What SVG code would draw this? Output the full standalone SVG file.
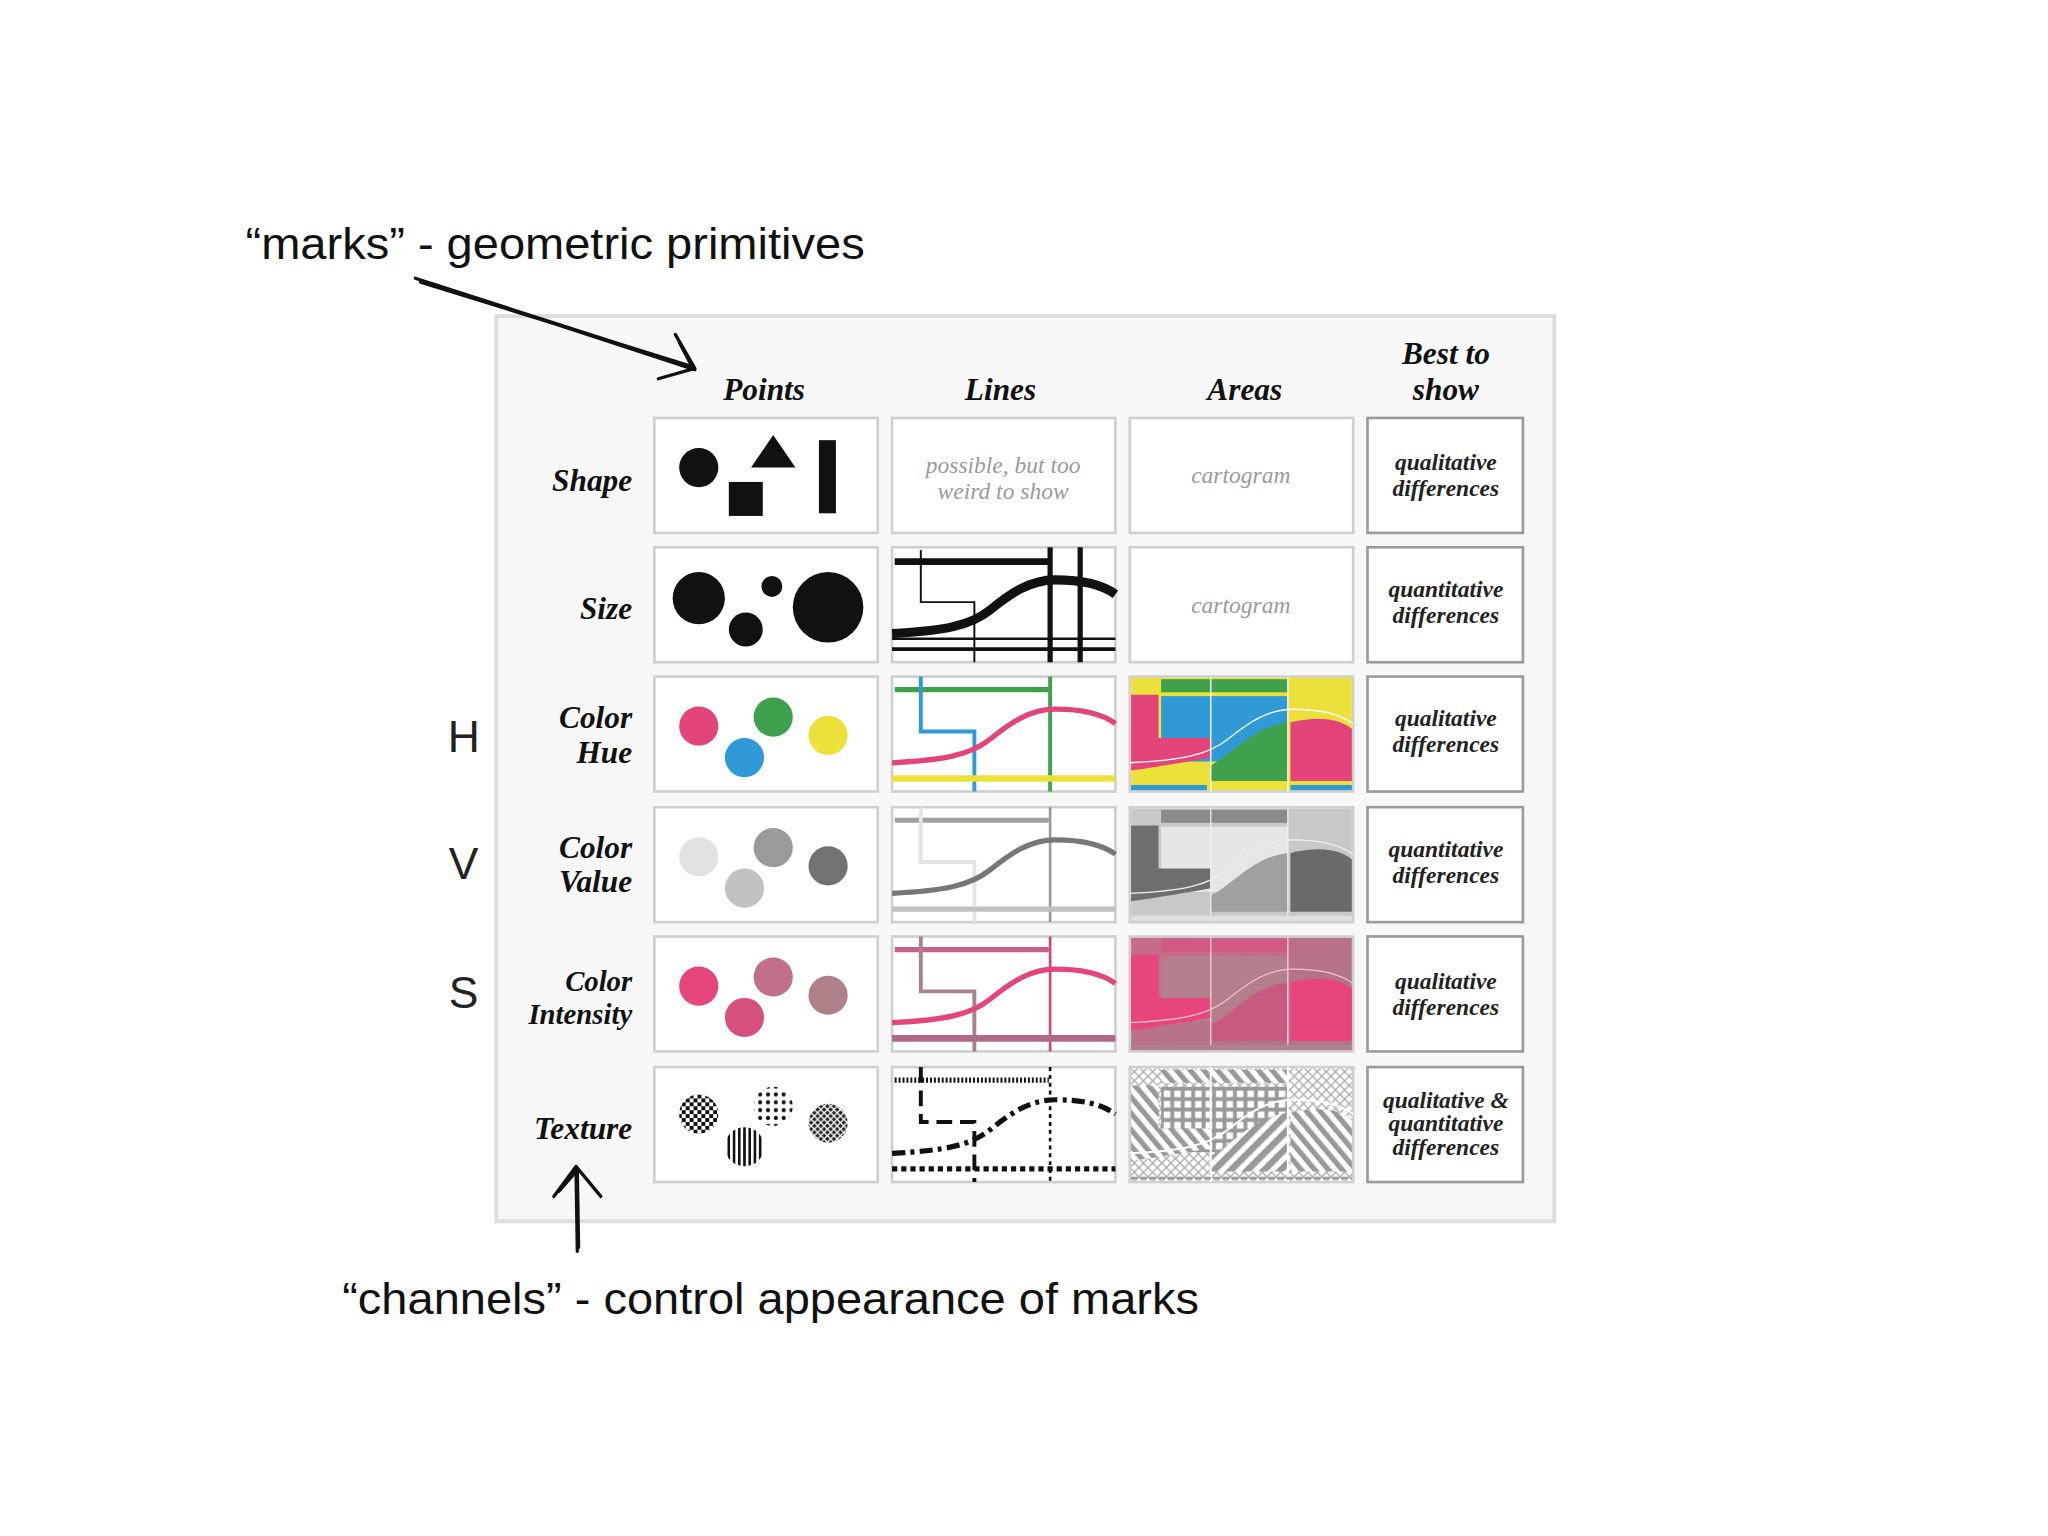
<svg xmlns="http://www.w3.org/2000/svg" width="2048" height="1536" viewBox="0 0 2048 1536">
<style>
.hd{font-family:"Liberation Serif",serif;font-weight:bold;font-style:italic;font-size:24px;fill:#111;text-anchor:middle}
.rl{font-family:"Liberation Serif",serif;font-weight:bold;font-style:italic;font-size:24px;fill:#111;text-anchor:end}
.bt{font-family:"Liberation Serif",serif;font-weight:bold;font-style:italic;font-size:18px;fill:#222;text-anchor:middle}
.gt{font-family:"Liberation Serif",serif;font-style:italic;font-size:18px;fill:#9a9a9a;text-anchor:middle}
.cap{font-family:"Liberation Sans",Arial,sans-serif;font-size:34px;fill:#111}
.hsv{font-family:"Liberation Sans",Arial,sans-serif;font-size:34px;fill:#222;text-anchor:middle}
.cell{fill:#fff;stroke:#cfcfcf;stroke-width:2}
.best{fill:#fff;stroke:#9a9a9a;stroke-width:2}
.pen{fill:none;stroke:#111;stroke-linecap:round;stroke-linejoin:round}
</style>
<defs>
<pattern id="chk" width="6" height="6" patternUnits="userSpaceOnUse"><rect width="6" height="6" fill="#fff"/><rect width="3" height="3" fill="#111"/><rect x="3" y="3" width="3" height="3" fill="#111"/></pattern>
<pattern id="dots" width="6" height="6" patternUnits="userSpaceOnUse"><rect width="6" height="6" fill="#fff"/><circle cx="3" cy="3" r="1.6" fill="#111"/></pattern>
<pattern id="vst" width="4" height="4" patternUnits="userSpaceOnUse"><rect width="4" height="4" fill="#fff"/><rect width="2" height="4" fill="#111"/></pattern>
<pattern id="xh" width="5" height="5" patternUnits="userSpaceOnUse"><rect width="5" height="5" fill="#222"/><path d="M0,0L5,5M5,0L0,5" stroke="#fff" stroke-width="1"/></pattern>
<pattern id="dg" width="9" height="9" patternUnits="userSpaceOnUse" patternTransform="rotate(45)"><rect width="9" height="9" fill="#fff"/><rect width="5" height="9" fill="#999"/></pattern>
<pattern id="dg2" width="8" height="8" patternUnits="userSpaceOnUse" patternTransform="rotate(-40)"><rect width="8" height="8" fill="#fff"/><rect width="4" height="8" fill="#999"/></pattern>
<pattern id="grid" width="8" height="8" patternUnits="userSpaceOnUse"><rect width="8" height="8" fill="#999"/><rect x="2" y="2" width="5" height="5" fill="#fff"/></pattern>
<pattern id="lx" width="7" height="7" patternUnits="userSpaceOnUse"><rect width="7" height="7" fill="#fff"/><path d="M0,0L7,7M7,0L0,7" stroke="#aaa" stroke-width="1"/></pattern>
<linearGradient id="ig" x1="0" y1="0" x2="1" y2="1"><stop offset="0" stop-color="#c86a8a"/><stop offset="1" stop-color="#a87a88"/></linearGradient>
</defs>
<rect width="2048" height="1536" fill="#fff"/>
<g transform="scale(1.30612)">
<g id="panel"><rect x="380" y="242" width="810" height="693" fill="#f7f7f7" stroke="#ddd" stroke-width="3"/></g>
<g id="headers">
<text class="hd" x="585" y="306">Points</text>
<text class="hd" x="766" y="306">Lines</text>
<text class="hd" x="953" y="306">Areas</text>
<text class="hd" x="1107" y="279">Best to</text>
<text class="hd" x="1107" y="306">show</text>
</g>
<g id="rowlabels">
<text class="rl" x="484" y="376">Shape</text>
<text class="rl" x="484" y="474">Size</text>
<text class="rl" x="484" y="557">Color</text><text class="rl" x="484" y="584">Hue</text>
<text class="rl" x="484" y="657">Color</text><text class="rl" x="484" y="683">Value</text>
<text class="rl" x="484" y="759" style="font-size:22px">Color</text><text class="rl" x="484" y="784" style="font-size:22px">Intensity</text>
<text class="rl" x="484" y="872">Texture</text>
</g>
<g id="hsv">
<text class="hsv" x="355" y="576">H</text>
<text class="hsv" x="355" y="673">V</text>
<text class="hsv" x="355" y="772">S</text>
</g>
<g id="captions">
<text class="cap" x="188" y="198" textLength="474" lengthAdjust="spacingAndGlyphs">“marks” - geometric primitives</text>
<text class="cap" x="262" y="1006" textLength="656" lengthAdjust="spacingAndGlyphs">“channels” - control appearance of marks</text>
</g>
<g id="connectors">
<path class="pen" stroke-width="2.5" d="M318,213 L532,283 M322,216 L528,280 M330,217 L520,278"/>
<path class="pen" stroke-width="2.5" d="M517,256 L532,282 L504,290 M520,262 L530,281"/>
<path class="pen" stroke-width="2.5" d="M442,958 L441,895 M443,955 L442,896"/>
<path class="pen" stroke-width="2.5" d="M424,916 L441,893 L460,916 M428,912 L442,896"/>
</g>
<g id="shape-points" transform="translate(501,320)"><rect class="cell" width="171" height="88"/>
<circle cx="34" cy="38" r="15" fill="#111"/><polygon points="91,13 74,38 108,38" fill="#111"/><rect x="57" y="49" width="26" height="26" fill="#111"/><rect x="126" y="17" width="13" height="56" fill="#111"/></g>
<g id="shape-lines" transform="translate(683,320)"><rect class="cell" width="171" height="88"/>
<text class="gt" x="85" y="42">possible, but too</text><text class="gt" x="85" y="62">weird to show</text></g>
<g id="shape-areas" transform="translate(865,320)"><rect class="cell" width="171" height="88"/><text class="gt" x="85" y="50">cartogram</text></g>
<g id="shape-best" transform="translate(1047,320)"><rect class="best" width="119" height="88"/><text class="bt" x="60" y="40">qualitative</text><text class="bt" x="60" y="60">differences</text></g>
<g id="size-points" transform="translate(501,419)"><rect class="cell" width="171" height="88"/>
<circle cx="34" cy="39" r="20" fill="#111"/><circle cx="90" cy="30" r="8" fill="#111"/><circle cx="70" cy="63" r="13" fill="#111"/><circle cx="133" cy="46" r="27" fill="#111"/></g>
<g id="size-lines" transform="translate(683,419)"><rect class="cell" width="171" height="88"/>
<path d="M22,2 V42 H63 V88" fill="none" stroke="#111" stroke-width="1.5"/>
<path d="M2,11 H120" stroke="#111" stroke-width="5"/>
<path d="M121,0 V88 M144,0 V88" stroke="#111" stroke-width="4"/>
<path d="M0,70 H171" stroke="#111" stroke-width="2"/><path d="M0,78 H171" stroke="#111" stroke-width="3"/>
<path d="M0,66 C40,64 60,60 75,48 S105,25 125,25 S160,28 171,36" fill="none" stroke="#111" stroke-width="7"/></g>
<g id="size-areas" transform="translate(865,419)"><rect class="cell" width="171" height="88"/><text class="gt" x="85" y="50">cartogram</text></g>
<g id="size-best" transform="translate(1047,419)"><rect class="best" width="119" height="88"/><text class="bt" x="60" y="38">quantitative</text><text class="bt" x="60" y="58">differences</text></g>
<g id="hue-points" transform="translate(501,518)"><rect class="cell" width="171" height="88"/>
<circle cx="34" cy="38" r="15" fill="#e3457b"/><circle cx="91" cy="31" r="15" fill="#3fa14d"/><circle cx="69" cy="62" r="15" fill="#2f9ad6"/><circle cx="133" cy="45" r="15" fill="#ece03b"/></g>
<g id="hue-lines" transform="translate(683,518)"><rect class="cell" width="171" height="88"/>
<path d="M2,10 H120" stroke="#3fa14d" stroke-width="4"/>
<path d="M22,0 V42 H63 V88" fill="none" stroke="#2f9ad6" stroke-width="3"/>
<path d="M121,0 V88" stroke="#3fa14d" stroke-width="3"/>
<path d="M0,78 H171" stroke="#ece03b" stroke-width="5"/>
<path d="M0,66 C40,64 60,60 75,48 S105,25 125,25 S160,28 171,36" fill="none" stroke="#e3457b" stroke-width="4"/></g>
<g id="hue-areas" transform="translate(865,518)"><rect class="cell" width="171" height="88"/>
<rect x="1" y="1" width="169" height="86" fill="#ece03b"/>
<rect x="24" y="2" width="97" height="10" fill="#3fa14d"/>
<rect x="24" y="15" width="97" height="50" fill="#2f9ad6"/>
<path d="M1,14 H22 V47 H62 V62 C40,66 15,70 1,72 Z" fill="#e3457b"/>
<path d="M62,80 V68 C80,58 95,38 121,35 V80 Z" fill="#3fa14d"/>
<path d="M123,35 C145,30 160,32 170,40 V80 H123 Z" fill="#e3457b"/>
<path d="M0,66 C40,64 60,60 75,48 S105,25 125,25 S160,28 171,36" fill="none" stroke="#fff" stroke-width="1"/>
<path d="M62,0 V88 M121,0 V88" stroke="#fff" stroke-width="1"/>
<rect x="1" y="83" width="58" height="4" fill="#2f9ad6"/><rect x="123" y="83" width="47" height="4" fill="#2f9ad6"/></g>
<g id="hue-best" transform="translate(1047,518)"><rect class="best" width="119" height="88"/><text class="bt" x="60" y="38">qualitative</text><text class="bt" x="60" y="58">differences</text></g>
<g id="value-points" transform="translate(501,618)"><rect class="cell" width="171" height="88"/>
<circle cx="34" cy="38" r="15" fill="#e2e2e2"/><circle cx="91" cy="31" r="15" fill="#9a9a9a"/><circle cx="69" cy="62" r="15" fill="#c2c2c2"/><circle cx="133" cy="45" r="15" fill="#727272"/></g>
<g id="value-lines" transform="translate(683,618)"><rect class="cell" width="171" height="88"/>
<path d="M2,10 H120" stroke="#a0a0a0" stroke-width="4"/>
<path d="M22,0 V42 H63 V88" fill="none" stroke="#e4e4e4" stroke-width="3"/>
<path d="M121,0 V88" stroke="#999" stroke-width="2"/>
<path d="M0,78 H171" stroke="#c0c0c0" stroke-width="4"/>
<path d="M0,66 C40,64 60,60 75,48 S105,25 125,25 S160,28 171,36" fill="none" stroke="#777" stroke-width="4"/></g>
<g id="value-areas" transform="translate(865,618)"><rect class="cell" width="171" height="88"/>
<rect x="1" y="1" width="169" height="86" fill="#c8c8c8"/>
<rect x="24" y="2" width="97" height="10" fill="#8a8a8a"/>
<rect x="24" y="15" width="97" height="50" fill="#e6e6e6"/>
<path d="M1,14 H22 V47 H62 V62 C40,66 15,70 1,72 Z" fill="#6e6e6e"/>
<path d="M62,80 V68 C80,58 95,38 121,35 V80 Z" fill="#a0a0a0"/>
<path d="M123,35 C145,30 160,32 170,40 V80 H123 Z" fill="#6a6a6a"/>
<path d="M0,66 C40,64 60,60 75,48 S105,25 125,25 S160,28 171,36" fill="none" stroke="#eee" stroke-width="1"/>
<path d="M62,0 V88 M121,0 V88" stroke="#eee" stroke-width="1"/>
<rect x="1" y="83" width="169" height="4" fill="#e0e0e0"/></g>
<g id="value-best" transform="translate(1047,618)"><rect class="best" width="119" height="88"/><text class="bt" x="60" y="38">quantitative</text><text class="bt" x="60" y="58">differences</text></g>
<g id="int-points" transform="translate(501,717)"><rect class="cell" width="171" height="88"/>
<circle cx="34" cy="38" r="15" fill="#e4457a"/><circle cx="91" cy="31" r="15" fill="#c0708a"/><circle cx="69" cy="62" r="15" fill="#d5507e"/><circle cx="133" cy="45" r="15" fill="#b08088"/></g>
<g id="int-lines" transform="translate(683,717)"><rect class="cell" width="171" height="88"/>
<path d="M2,10 H120" stroke="#c8608a" stroke-width="4"/>
<path d="M22,0 V42 H63 V88" fill="none" stroke="#a88290" stroke-width="3"/>
<path d="M121,0 V88" stroke="#d0457a" stroke-width="2"/>
<path d="M0,78 H171" stroke="#b06a88" stroke-width="5"/>
<path d="M0,66 C40,64 60,60 75,48 S105,25 125,25 S160,28 171,36" fill="none" stroke="#e4457a" stroke-width="4"/></g>
<g id="int-areas" transform="translate(865,717)"><rect class="cell" width="171" height="88"/>
<rect x="1" y="1" width="169" height="86" fill="url(#ig)"/>
<rect x="24" y="2" width="97" height="10" fill="#d05a84"/>
<rect x="24" y="15" width="97" height="50" fill="#b47e8c"/>
<path d="M1,14 H22 V47 H62 V62 C40,66 15,70 1,72 Z" fill="#e8457c"/>
<path d="M62,80 V68 C80,58 95,38 121,35 V80 Z" fill="#c85a82"/>
<path d="M123,35 C145,30 160,32 170,40 V80 H123 Z" fill="#e8457c"/>
<path d="M0,66 C40,64 60,60 75,48 S105,25 125,25 S160,28 171,36" fill="none" stroke="#f4c0d0" stroke-width="1"/>
<path d="M62,0 V88 M121,0 V88" stroke="#f0d0dc" stroke-width="1"/>
<rect x="1" y="83" width="169" height="4" fill="#b08090"/></g>
<g id="int-best" transform="translate(1047,717)"><rect class="best" width="119" height="88"/><text class="bt" x="60" y="40">qualitative</text><text class="bt" x="60" y="60">differences</text></g>
<g id="tex-points" transform="translate(501,817)"><rect class="cell" width="171" height="88"/>
<circle cx="34" cy="36" r="15" fill="url(#chk)"/><circle cx="91" cy="30" r="15" fill="url(#dots)"/><circle cx="69" cy="61" r="15" fill="url(#vst)"/><circle cx="133" cy="43" r="15" fill="url(#xh)"/></g>
<g id="tex-lines" transform="translate(683,817)"><rect class="cell" width="171" height="88"/>
<path d="M2,10 H120" stroke="#111" stroke-width="4" stroke-dasharray="1.5,1.5"/>
<path d="M22,0 V42 H63 V88" fill="none" stroke="#111" stroke-width="3" stroke-dasharray="12,6"/>
<path d="M121,0 V88" stroke="#111" stroke-width="2" stroke-dasharray="3,3"/>
<path d="M0,78 H171" stroke="#111" stroke-width="4" stroke-dasharray="4,3"/>
<path d="M0,66 C40,64 60,60 75,48 S105,25 125,25 S160,28 171,36" fill="none" stroke="#111" stroke-width="4" stroke-dasharray="10,4,3,4"/></g>
<g id="tex-areas" transform="translate(865,817)"><rect class="cell" width="171" height="88"/>
<rect x="1" y="1" width="169" height="86" fill="url(#lx)"/>
<rect x="24" y="2" width="97" height="10" fill="url(#dg2)"/>
<rect x="24" y="15" width="97" height="50" fill="url(#grid)"/>
<path d="M1,14 H22 V47 H62 V62 C40,66 15,70 1,72 Z" fill="url(#dg2)"/>
<path d="M62,80 V68 C80,58 95,38 121,35 V80 Z" fill="url(#dg)"/>
<path d="M123,35 C145,30 160,32 170,40 V80 H123 Z" fill="url(#dg2)"/>
<path d="M0,66 C40,64 60,60 75,48 S105,25 125,25 S160,28 171,36" fill="none" stroke="#fff" stroke-width="1.5"/>
<path d="M62,0 V88 M121,0 V88" stroke="#fff" stroke-width="1.5"/>
<path d="M1,85 H170" stroke="#999" stroke-width="2" stroke-dasharray="5,2"/></g>
<g id="tex-best" transform="translate(1047,817)"><rect class="best" width="119" height="88"/><text class="bt" x="60" y="31">qualitative &amp;</text><text class="bt" x="60" y="49">quantitative</text><text class="bt" x="60" y="67">differences</text></g>
</g>
</svg>
